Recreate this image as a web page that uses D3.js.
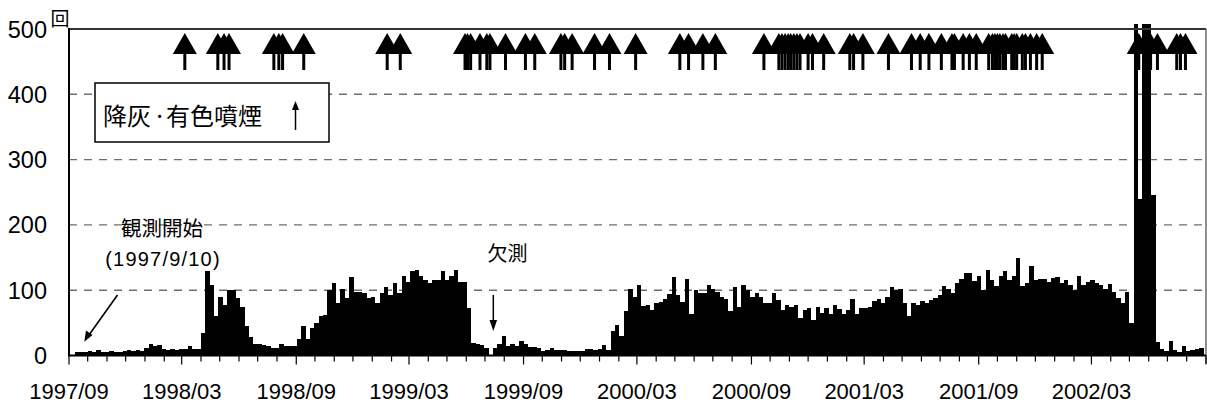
<!DOCTYPE html>
<html>
<head>
<meta charset="utf-8">
<script src="https://cdn.jsdelivr.net/npm/d3@7"></script>
<style>
  body { margin: 0; background: #fff; }
  svg { display: block; }
</style>
</head>
<body>
<svg id="chart" width="1207" height="403"></svg>
<script>
// Weekly earthquake counts, consecutive weeks from the first observation day.
const firstWeek = "1997-09-10";
const counts1997_98 = [6,6,6,7,6,8,6,5,7,6, 6,7,8,7,8,7,12,18,14,16, 10,9,10,9,10,10,15,10,10,35,
  129,108,60,90,78,100,100,88,75,45, 28,17,17,16,15,12,12,17,15,14, 14,25];
const counts1998_99 = [45,25,42,50,60,62,100,111,80,102, 88,120,97,98,95,88,90,80,95,105,
  93,111,95,122,113,129,131,121,116,111, 116,116,129,116,122,131,113,113,73,19,
  18,16,12,null,12,18,30,14,18,14, 22,17];
const counts1999_00 = [13,13,12,7,9,12,9,9,8,7, 7,7,7,10,10,9,10,16,8,38,
  46,30,68,102,90,108,76,77,70,80, 82,87,94,120,93,82,117,63,100,96,
  96,108,102,98,90,87,68,105,75,108, 100,90];
const counts2000_01 = [96,90,80,80,96,85,70,78,74,78, 58,70,72,55,75,65,73,63,78,71,
  63,70,87,63,72,72,74,84,87,80, 90,105,100,102,80,60,80,77,84,80,
  85,88,93,107,102,95,111,117,126,126, 114,122];
const counts2001_02 = [100,131,116,106,122,130,116,122,149,106, 111,137,115,117,117,113,119,120,111,116,
  108,100,122,108,112,116,111,108,102,110, 98,88,80,97,50,507,240,507,507,246,
  20,10,7,22,8,6,15,7,9,10, 12];

// Days with ash fall or coloured plume
const ashEvents = [
  "1998-03-06",
  "1998-04-28","1998-05-08","1998-05-16",
  "1998-07-27","1998-08-04","1998-08-10","1998-09-13",
  "1999-01-25","1999-02-15",
  "1999-05-30","1999-06-03","1999-06-08","1999-06-23","1999-07-04","1999-07-09","1999-08-03","1999-09-04","1999-09-19",
  "1999-10-31","1999-11-06","1999-11-18",
  "1999-12-24","2000-01-17",
  "2000-02-28",
  "2000-05-09","2000-05-23","2000-06-15","2000-07-05",
  "2000-09-21","2000-10-15","2000-10-20","2000-10-25","2000-10-30","2000-11-03","2000-11-08","2000-11-13","2000-11-18",
  "2000-12-01","2000-12-08","2000-12-26",
  "2001-02-06","2001-02-12","2001-02-27",
  "2001-04-09",
  "2001-05-16","2001-05-30","2001-06-13","2001-07-03","2001-07-20","2001-07-24","2001-08-07","2001-08-17","2001-08-28",
  "2001-09-17","2001-09-23","2001-09-27","2001-10-01","2001-10-05","2001-10-10","2001-10-14","2001-10-24","2001-10-28",
  "2001-11-01","2001-11-10","2001-11-15","2001-11-23","2001-12-03","2001-12-12",
  "2002-05-16","2002-05-27","2002-06-04","2002-06-15","2002-07-16","2002-07-22","2002-07-30"
];

const yTicks = [0, 100, 200, 300, 400, 500];
const xTickLabels = ["1997/09","1998/03","1998/09","1999/03","1999/09","2000/03","2000/09","2001/03","2001/09","2002/03"];
const axisStart = "1997-09-01", axisEnd = "2002-09-01";

const parseDay = d3.utcParse("%Y-%m-%d");
const parseMonth = d3.utcParse("%Y/%m");

const weekly = [].concat(counts1997_98, counts1998_99, counts1999_00, counts2000_01, counts2001_02)
  .map((v, i) => {
    const start = d3.utcDay.offset(parseDay(firstWeek), 7 * i);
    return { start, end: d3.utcDay.offset(start, 7), value: v };
  });

const svg = d3.select("#chart");
const plotLeft = 69, plotRight = 1206, plotTop = 29, plotBottom = 355.5;

const x = d3.scaleUtc().domain([parseDay(axisStart), parseDay(axisEnd)]).range([plotLeft, plotRight]);
const y = d3.scaleLinear().domain([0, 500]).range([plotBottom, plotTop]);

const latin = "'Liberation Sans', Arial, sans-serif";
const cjk = "'Noto Sans CJK JP', sans-serif";

// dashed gridlines
svg.append("g").selectAll("line")
  .data(yTicks.filter(t => t > 0 && t < 500))
  .join("line")
  .attr("x1", plotLeft).attr("x2", plotRight)
  .attr("y1", d => y(d)).attr("y2", d => y(d))
  .attr("stroke", "#6e6e6e").attr("stroke-width", 1.4)
  .attr("stroke-dasharray", "8,7");

// weekly count bars (pixel-snapped so adjacent weeks join without seams)
svg.append("g").attr("shape-rendering", "crispEdges").selectAll("rect")
  .data(weekly.filter(d => d.value != null))
  .join("rect")
  .attr("x", d => Math.round(x(d.start)))
  .attr("width", d => Math.round(x(d.end)) - Math.round(x(d.start)))
  .attr("y", d => Math.round(y(d.value)))
  .attr("height", d => Math.round(y(0)) - Math.round(y(d.value)))
  .attr("fill", "#000");

// plot frame
svg.append("line").attr("x1", plotLeft).attr("x2", plotRight).attr("y1", plotTop).attr("y2", plotTop)
  .attr("stroke", "#333").attr("stroke-width", 1.8);
svg.append("line").attr("x1", plotRight).attr("x2", plotRight).attr("y1", plotTop).attr("y2", plotBottom + 8)
  .attr("stroke", "#444").attr("stroke-width", 1.2);
svg.append("line").attr("x1", plotLeft).attr("x2", plotLeft).attr("y1", plotTop - 1).attr("y2", plotBottom + 1)
  .attr("stroke", "#000").attr("stroke-width", 2);
svg.append("line").attr("x1", plotLeft - 1).attr("x2", plotRight).attr("y1", plotBottom).attr("y2", plotBottom)
  .attr("stroke", "#000").attr("stroke-width", 2);

// month ticks, longer every half year
const months = d3.utcMonth.range(parseDay(axisStart), d3.utcDay.offset(parseDay(axisEnd), 1));
svg.append("g").selectAll("line")
  .data(months)
  .join("line")
  .attr("x1", d => x(d)).attr("x2", d => x(d))
  .attr("y1", plotBottom)
  .attr("y2", d => plotBottom + ((d.getUTCMonth() === 2 || d.getUTCMonth() === 8) ? 9 : 6))
  .attr("stroke", "#000").attr("stroke-width", 1.2);

// x labels
svg.append("g").selectAll("text")
  .data(xTickLabels)
  .join("text")
  .attr("x", d => x(parseMonth(d)))
  .attr("y", 399)
  .attr("text-anchor", "middle")
  .attr("font-family", latin).attr("font-size", 22)
  .text(d => d);

// y labels
svg.append("g").selectAll("text")
  .data(yTicks)
  .join("text")
  .attr("x", 47)
  .attr("y", d => y(d) + 8.5)
  .attr("text-anchor", "end")
  .attr("font-family", latin).attr("font-size", 23.5)
  .text(d => d);

// unit mark
svg.append("text").attr("x", 60).attr("y", 26).attr("text-anchor", "middle")
  .attr("font-family", cjk).attr("font-size", 19).text("回");

// ash / plume markers
const markers = svg.append("g").attr("fill", "#000");
ashEvents.forEach(d => {
  const cx = x(parseDay(d));
  markers.append("rect").attr("x", cx - 1.5).attr("y", 50).attr("width", 3).attr("height", 20);
  markers.append("path").attr("d", `M${cx},33 L${cx + 12},54 L${cx - 12},54 Z`);
});

// legend box
svg.append("rect").attr("x", 95).attr("y", 83).attr("width", 234).attr("height", 59)
  .attr("fill", "#fff").attr("stroke", "#000").attr("stroke-width", 1.5);
const legendText = svg.append("text").attr("y", 125)
  .attr("font-family", cjk).attr("font-size", 24);
legendText.append("tspan").attr("x", 103).text("降灰");
legendText.append("tspan").attr("x", 153).text("·");
legendText.append("tspan").attr("x", 166).text("有色噴煙");
svg.append("line").attr("x1", 295.5).attr("x2", 295.5).attr("y1", 130).attr("y2", 108)
  .attr("stroke", "#000").attr("stroke-width", 1.5);
svg.append("path").attr("d", "M295.5,101 L299,110 L292,110 Z").attr("fill", "#000");

// annotation: start of observation
svg.append("text").attr("x", 162).attr("y", 236).attr("text-anchor", "middle")
  .attr("font-family", cjk).attr("font-size", 20.5).text("観測開始");
svg.append("text").attr("x", 163).attr("y", 266).attr("text-anchor", "middle")
  .attr("font-family", latin).attr("font-size", 20).attr("letter-spacing", 1.2)
  .text("(1997/9/10)");
svg.append("line").attr("x1", 117.5).attr("y1", 295).attr("x2", 89).attr("y2", 335)
  .attr("stroke", "#000").attr("stroke-width", 1.6);
svg.append("path").attr("d", "M84.3,341.7 L86,330.5 L92.5,335 Z").attr("fill", "#000");

// annotation: missing data
svg.append("text").attr("x", 507.5).attr("y", 261).attr("text-anchor", "middle")
  .attr("font-family", cjk).attr("font-size", 20).text("欠測");
svg.append("line").attr("x1", 493.3).attr("x2", 493.3).attr("y1", 295).attr("y2", 322)
  .attr("stroke", "#000").attr("stroke-width", 1.5);
svg.append("path").attr("d", "M493.3,331 L489.5,320 L497.1,320 Z").attr("fill", "#000");
</script>
</body>
</html>
